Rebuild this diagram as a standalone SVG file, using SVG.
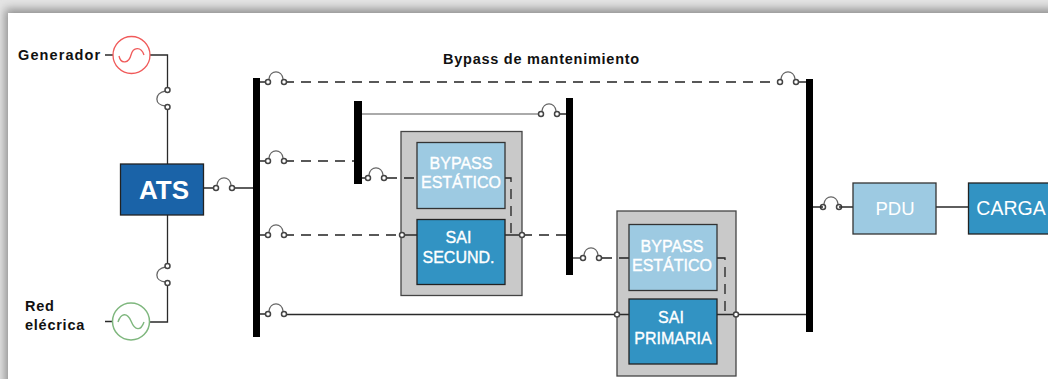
<svg xmlns="http://www.w3.org/2000/svg" width="1048" height="379" viewBox="0 0 1048 379">
<style>
text{font-family:"Liberation Sans",Arial,sans-serif}
.lab{font-size:14.5px;font-weight:700;fill:#111;letter-spacing:.75px}
.w{fill:#fff;stroke:#fff;stroke-width:.35;text-anchor:middle;font-size:16px}
.ln{fill:none;stroke:#2a2a2a;stroke-width:1.3}
.d{fill:none;stroke:#222;stroke-width:1.3;stroke-dasharray:10 7}
.sw{fill:none;stroke:#666;stroke-width:1.3}
.c{fill:#fff;stroke:#444;stroke-width:1.5}
.bus{fill:#000}
.out{fill:#c9c9c9;stroke:#444;stroke-width:1.3}
.lt{fill:#9dcae2;stroke:#333;stroke-width:1.3}
.dk{fill:#3293c3;stroke:#222;stroke-width:1.3}
</style>
<defs>
<filter id="sh" x="-5%" y="-20%" width="110%" height="140%"><feGaussianBlur stdDeviation="5"/></filter>
<g id="h"><path class="sw" d="M1 -3C2 -12.500 14 -12.500 15 -3"/><circle class="c" cx="0" cy="0" r="2.500"/><circle class="c" cx="16" cy="0" r="2.500"/></g>
<g id="v"><path class="sw" d="M-2 1C-13.500 3 -13.500 15 -2 16"/><circle class="c" cx="0" cy="0" r="2.500"/><circle class="c" cx="0" cy="17" r="2.500"/></g>
</defs>
<rect width="1048" height="379" fill="#e4e4e4"/>
<rect x="5" y="9" width="1100" height="400" fill="#8f8f8f" filter="url(#sh)"/>
<rect x="8" y="13" width="1040" height="366" fill="#fff"/>

<g id="connectors">
<path class="ln" d="M105 55H113M150 55H167.500V90M167.500 107V164M167.500 215V266M167.500 283V322H150M105 321.500H113"/>
<path class="ln" d="M204 188H216M232 188H253"/>
<path class="ln" d="M260 82H268M796 82H806M260 161H268M260 235H268M260 314H268"/>
<path class="d" d="M284 82H780"/>
<path class="d" d="M284 161H354"/>
<path class="d" d="M284 235H401"/>
<path class="ln" d="M284 314.500H617"/>
<path fill="none" stroke="#aaa" stroke-width="2.200" d="M362 114H540"/>
<path class="ln" d="M557 114H566M362 178H368"/>
<path class="d" d="M522 235H566"/>
<path class="ln" d="M573 258H583"/>
</g>

<g id="bus-1"><rect class="bus" x="253" y="78" width="7" height="259"/></g>
<g id="bus-2"><rect class="bus" x="354" y="101" width="8" height="83"/></g>
<g id="bus-3"><rect class="bus" x="566" y="98" width="7" height="177"/></g>
<g id="bus-4"><rect class="bus" x="806" y="79" width="7" height="253"/></g>

<g id="generador">
<circle cx="131.500" cy="55" r="18.500" fill="#fff" stroke="#f05a5a" stroke-width="1.300"/>
<path d="M119 56C121 65 129 63 131 55C133 47 141 46 144 55" fill="none" stroke="#f05a5a" stroke-width="1.300"/>
<text class="lab" x="18" y="60" style="letter-spacing:1.100px">Generador</text>
</g>
<g id="red">
<circle cx="131" cy="321.500" r="18.500" fill="#fff" stroke="#7fb77e" stroke-width="1.500"/>
<path d="M118 322C121 313 127 312 131 321C135 331 141 331 144 322" fill="none" stroke="#7fb77e" stroke-width="1.400"/>
<text class="lab" x="25" y="311">Red</text>
<text class="lab" x="25" y="330">elécrica</text>
</g>
<g id="ats"><rect x="120.500" y="164" width="83" height="51" fill="#1a63a8" stroke="#222" stroke-width="1.300"/><text class="w" x="164" y="198.500" style="font-size:26px;font-weight:700;stroke:none">ATS</text></g>

<g id="switches">
<use href="#v" x="167.500" y="90"/><use href="#v" x="167.500" y="266"/>
<use href="#h" x="216" y="188"/>
<use href="#h" x="268" y="82"/><use href="#h" x="268" y="161"/><use href="#h" x="268" y="235"/><use href="#h" x="268" y="314"/>
<use href="#h" x="780" y="82"/><use href="#h" x="541" y="114"/><use href="#h" x="368" y="178"/><use href="#h" x="583" y="258"/><use href="#h" x="823" y="207"/>
</g>

<g id="sai-secundario">
<rect class="out" x="401" y="131.500" width="121" height="164"/>
<path class="d" d="M387 178H417"/>
<path class="d" d="M505 178H511V235"/>
<rect class="lt" x="417" y="142.500" width="88" height="66"/>
<text class="w" x="461" y="169">BYPASS</text><text class="w" x="461" y="188">ESTÁTICO</text>
<rect class="dk" x="417" y="219.500" width="88" height="65"/>
<text class="w" x="458.500" y="243">SAI</text><text class="w" x="458.500" y="263">SECUND.</text>
<path class="ln" d="M401 235H417M505 235H522"/>
<circle class="c" cx="402" cy="235" r="2.500"/><circle class="c" cx="522" cy="235" r="2.500"/>
</g>
<g id="sai-primaria">
<rect class="out" x="617" y="211" width="119" height="165"/>
<path class="d" d="M602 258H629"/>
<path class="d" d="M717 258H725V315"/>
<rect class="lt" x="629" y="224.500" width="88" height="66"/>
<text class="w" x="672" y="252">BYPASS</text><text class="w" x="672" y="271">ESTÁTICO</text>
<rect class="dk" x="629" y="299" width="88" height="65"/>
<text class="w" x="671" y="323">SAI</text><text class="w" x="673" y="344">PRIMARIA</text>
<path class="ln" d="M617 314.500H629M717 314.500H806"/>
<circle class="c" cx="617" cy="314.500" r="2.500"/><circle class="c" cx="736" cy="314.500" r="2.500"/>
</g>
<g id="pdu"><path class="ln" d="M813 207H823M839 207H853M936 207H968"/><rect class="lt" x="853" y="183" width="83" height="51"/><text class="w" x="895" y="215" style="font-size:18.500px;stroke:none">PDU</text></g>
<g id="carga"><rect class="dk" x="968.500" y="183" width="90" height="51"/><text class="w" x="1011" y="215" style="font-size:19.500px;stroke:none">CARGA</text></g>
<text class="lab" x="443" y="64">Bypass de mantenimiento</text>
</svg>
